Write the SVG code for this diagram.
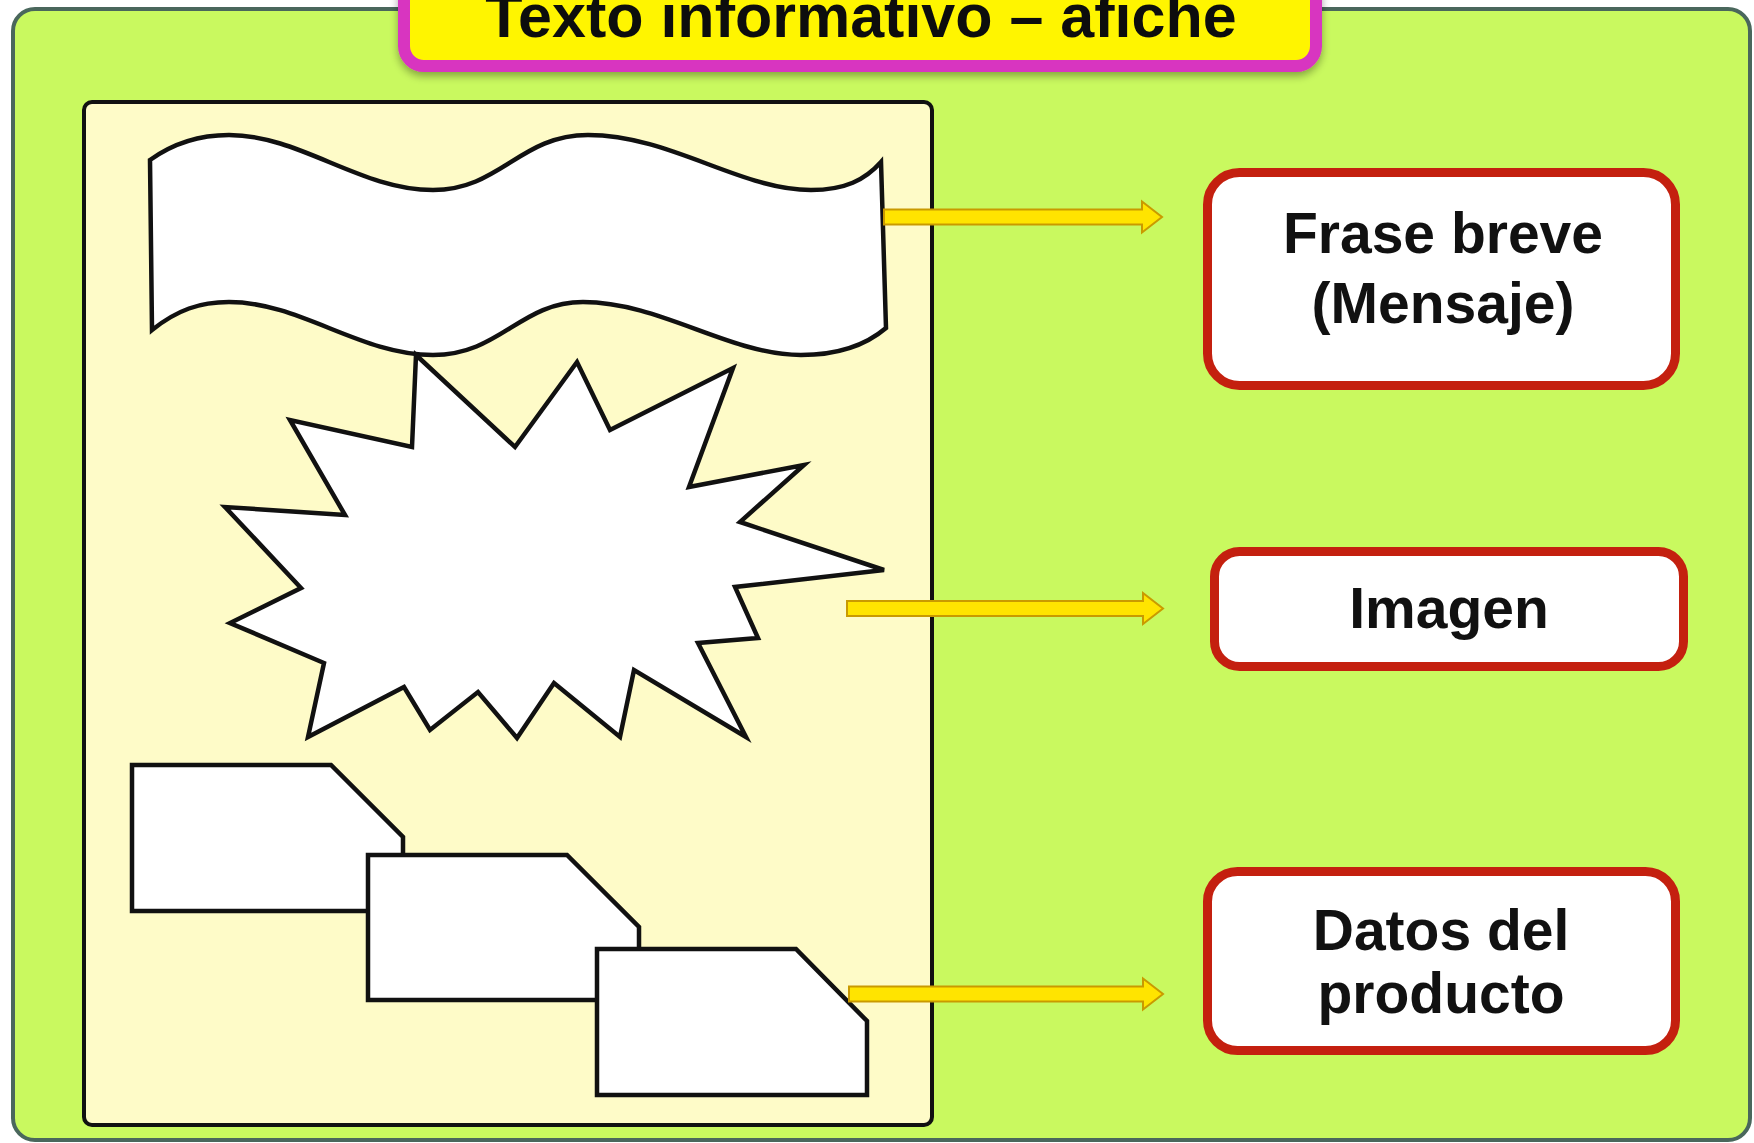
<svg xmlns="http://www.w3.org/2000/svg" width="1754" height="1143" viewBox="0 0 1754 1143">
<style>
.shape{fill:#ffffff;stroke:#111111;stroke-width:4.5;stroke-linejoin:miter}
.arrow{fill:#ffe400;stroke:#c99a00;stroke-width:2;stroke-linejoin:miter}
.box{fill:#ffffff;stroke:#c4200f;stroke-width:9}
.lbl{font-family:"Liberation Sans",Arial,sans-serif;font-weight:bold;font-size:57px;fill:#111111;text-anchor:middle}
.title{font-family:"Liberation Sans",Arial,sans-serif;font-weight:bold;font-size:61px;fill:#111111;text-anchor:middle}
</style>
<defs>
<filter id="sh" x="-10%" y="-50%" width="120%" height="200%">
<feGaussianBlur in="SourceAlpha" stdDeviation="4"/>
<feOffset dx="0" dy="4" result="b"/>
<feComponentTransfer><feFuncA type="linear" slope="0.35"/></feComponentTransfer>
<feMerge><feMergeNode/><feMergeNode in="SourceGraphic"/></feMerge>
</filter>
</defs>
<rect x="0" y="0" width="1754" height="1143" fill="#ffffff"/>
<g id="background">
<rect x="13" y="9" width="1737" height="1131" rx="22" fill="#c9f95f" stroke="#4a675c" stroke-width="4"/>
</g>
<g id="title" filter="url(#sh)">
<rect x="404" y="-30" width="912" height="96" rx="20" fill="#fff500" stroke="#d834c0" stroke-width="12"/>
<text class="title" x="861" y="37">Texto informativo – afiche</text>
</g>
<g id="poster">
<rect x="84" y="102" width="848" height="1023" rx="8" fill="#fefbc8" stroke="#111111" stroke-width="4"/>
</g>
<g id="banner">
<path class="shape" d="M150,160 C175,142 200,135 229,135 C300,135 360,190 433,190 C500,190 520,135 588,135 C670,135 740,190 811,190 C845,190 865,180 881,162 L886,328 C866,345 840,355 801,355 C730,355 660,302 583,302 C520,302 500,355 433,355 C360,355 300,302 229,302 C200,302 177,310 152,330 Z"/>
</g>
<g id="starburst">
<polygon class="shape" points="416,355 515,447 577,362 610,430 733,368 689,487 804,465 740,522 884,570 735,587 758,638 698,643 746,737 634,670 620,737 554,683 517,738 478,692 430,730 404,687 308,737 324,663 230,623 301,588 225,507 345,515 290,420 412,447"/>
</g>
<g id="documents">
<path class="shape" d="M132,765 H331 L403,837 V911 H132 Z"/>
<path class="shape" d="M368,855 H567 L639,927 V1000 H368 Z"/>
<path class="shape" d="M597,949 H796 L867,1021 V1095 H597 Z"/>
</g>
<g id="connectors">
<path class="arrow" d="M884,209.5 H1142 V201.5 L1162,217 L1142,232.5 V224.5 H884 Z"/>
<path class="arrow" d="M847,601 H1143 V593 L1163,608.5 L1143,624 V616 H847 Z"/>
<path class="arrow" d="M849,986.5 H1143 V978.5 L1163,994 L1143,1009.5 V1001.5 H849 Z"/>
</g>
<g id="node-frase">
<rect class="box" x="1207.5" y="172.5" width="468" height="213" rx="32"/>
<text class="lbl" x="1443" y="253">Frase breve</text>
<text class="lbl" x="1443" y="323">(Mensaje)</text>
</g>
<g id="node-imagen">
<rect class="box" x="1214.5" y="551.5" width="469" height="115" rx="25"/>
<text class="lbl" x="1449" y="628">Imagen</text>
</g>
<g id="node-datos">
<rect class="box" x="1207.5" y="871.5" width="468" height="179" rx="30"/>
<text class="lbl" x="1441" y="950">Datos del</text>
<text class="lbl" x="1441" y="1013">producto</text>
</g>
</svg>
